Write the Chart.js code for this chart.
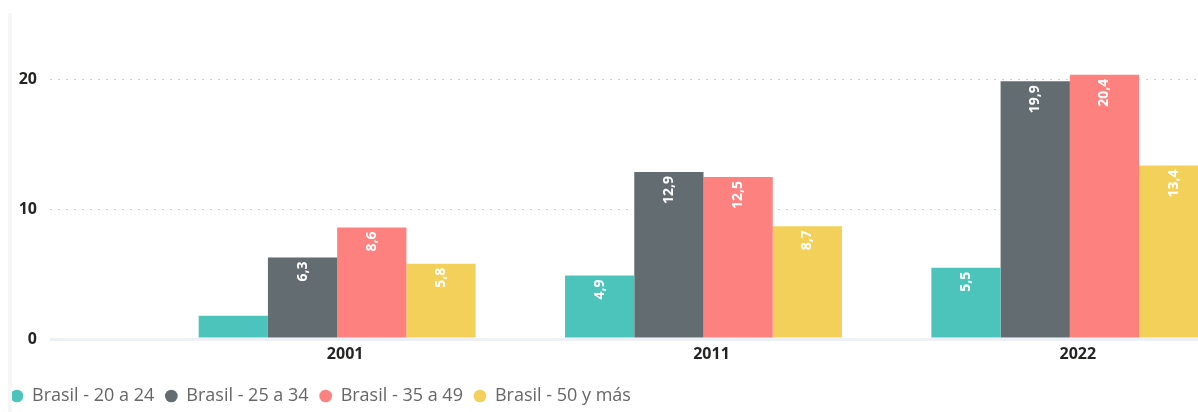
<!DOCTYPE html>
<html>
<head>
<meta charset="utf-8">
<script src="https://cdn.jsdelivr.net/npm/chart.js@4"></script>
<style>
    html, body { margin: 0; padding: 0; background: #fff; overflow: hidden; }
    #wrap { position: relative; width: 1260px; height: 420px; }
    #edge { position: absolute; left: 8px; top: 13px; bottom: 0; width: 4px; background: #f6f6f6; }
</style>
</head>
<body>
<div id="wrap">
    <div id="edge"></div>
    <canvas id="myChart" width="1260" height="420"></canvas>
</div>
<script>
// Datos del gráfico
var anios = ["2001", "2011", "2022"];
var series = ["Brasil - 20 a 24", "Brasil - 25 a 34", "Brasil - 35 a 49", "Brasil - 50 y más"];
var valores20a24 = [1.8, 4.9, 5.5];
var valores25a34 = [6.3, 12.9, 19.9];
var valores35a49 = [8.6, 12.5, 20.4];
var valores50ymas = [5.8, 8.7, 13.4];
var colores = ["#4cc4bb", "#636c70", "#fd817f", "#f3d05a"];
var ticksY = [0, 10, 20];

var FONT = "'Open Sans', 'Noto Sans', sans-serif";

// Etiquetas de datos dentro de la barra, giradas
var etiquetas = {
    id: "etiquetas",
    afterDatasetsDraw: function (chart) {
        var ctx = chart.ctx;
        ctx.save();
        ctx.fillStyle = "#ffffff";
        ctx.font = "bold 14px " + FONT;
        ctx.textAlign = "right";
        ctx.textBaseline = "middle";
        chart.data.datasets.forEach(function (ds, i) {
            var meta = chart.getDatasetMeta(i);
            meta.data.forEach(function (bar, j) {
                var v = ds.data[j];
                if (v < 3) return; // barra muy baja, sin etiqueta
                ctx.save();
                ctx.translate(bar.x, bar.y + 4);
                ctx.rotate(-Math.PI / 2);
                ctx.fillText(v.toFixed(1).replace(".", ","), 0, 0);
                ctx.restore();
            });
        });
        ctx.restore();
    }
};

function esCero(c) { return c.tick && c.tick.value === 0; }

var ctx = document.getElementById("myChart").getContext("2d");
var chart = new Chart(ctx, {
    type: "bar",
    data: {
        labels: anios,
        datasets: [
            { label: series[0], data: valores20a24, backgroundColor: colores[0] },
            { label: series[1], data: valores25a34, backgroundColor: colores[1] },
            { label: series[2], data: valores35a49, backgroundColor: colores[2] },
            { label: series[3], data: valores50ymas, backgroundColor: colores[3] }
        ]
    },
    options: {
        responsive: false,
        animation: false,
        categoryPercentage: 0.756,
        barPercentage: 1,
        layout: { padding: { top: 54, right: 7, left: 0, bottom: 5 } },
        plugins: {
            tooltip: { enabled: false },
            legend: {
                position: "bottom",
                align: "start",
                labels: {
                    usePointStyle: true,
                    pointStyle: "circle",
                    boxWidth: 12,
                    boxHeight: 9,
                    padding: 11,
                    color: "#666666",
                    font: { family: FONT, size: 18 }
                }
            }
        },
        scales: {
            x: {
                afterFit: function (s) { s.height = 37; },
                grid: { display: false, drawTicks: false },
                border: { display: false },
                ticks: {
                    color: "#252423",
                    font: { family: FONT, size: 16, weight: "bold" },
                    labelOffset: 8,
                    padding: 6
                }
            },
            y: {
                min: 0,
                max: 22,
                afterFit: function (s) { s.width = 154; },
                afterBuildTicks: function (s) {
                    s.ticks = ticksY.map(function (v) { return { value: v }; });
                },
                border: {
                    display: false,
                    dash: function (c) { return esCero(c) ? [] : [2, 6]; }
                },
                grid: {
                    color: function (c) { return esCero(c) ? "#edf1f7" : "#cfcfcf"; },
                    lineWidth: function (c) { return esCero(c) ? 3 : 1; },
                    tickColor: function (c) { return esCero(c) ? "#edf1f7" : "#cfcfcf"; },
                    tickWidth: function (c) { return esCero(c) ? 3 : 1; },
                    tickBorderDash: function (c) { return esCero(c) ? [] : [2, 6]; },
                    tickLength: 104
                },
                ticks: {
                    padding: 13,
                    color: "#252423",
                    font: { family: FONT, size: 16, weight: "bold" }
                }
            }
        }
    },
    plugins: [etiquetas]
});
</script>
</body>
</html>
